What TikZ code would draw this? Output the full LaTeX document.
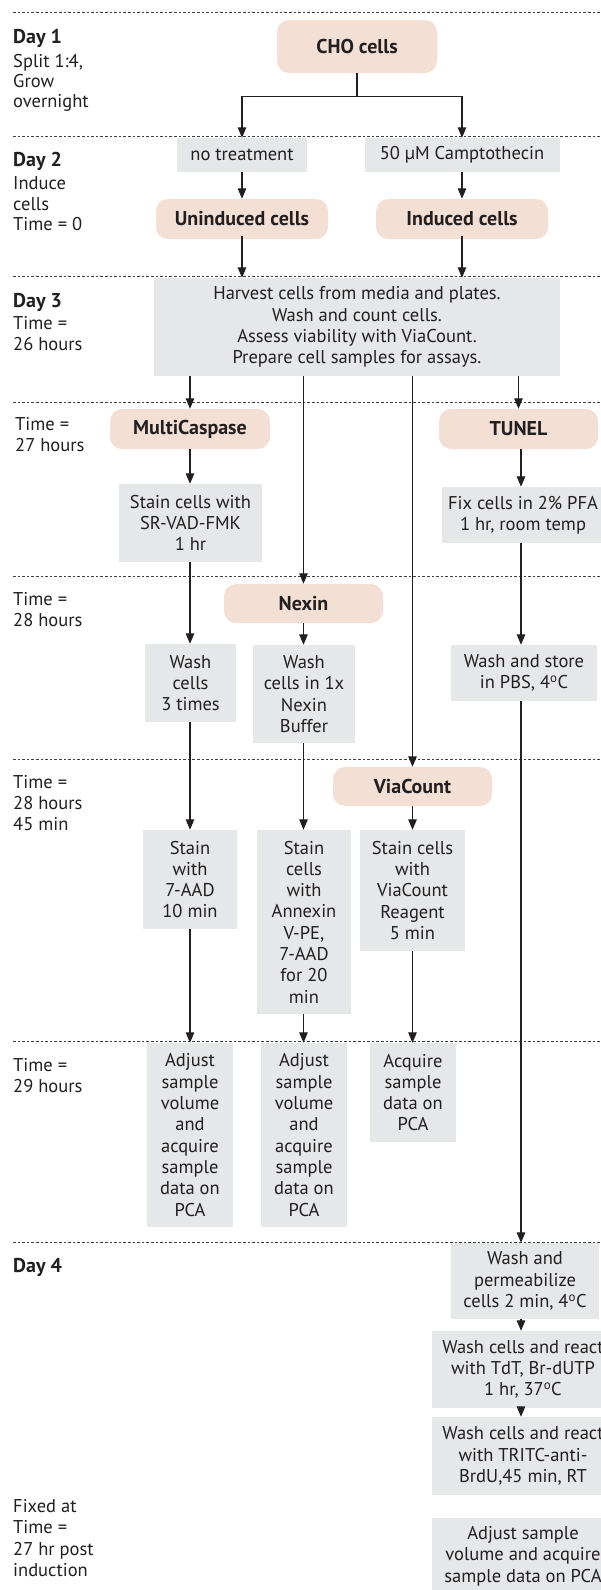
\documentclass[tikz,border=0pt]{standalone}
\usepackage{fontspec}
\setmainfont{PT Sans}
\usetikzlibrary{arrows.meta}
\definecolor{pinkbox}{HTML}{F3DFD4}
\definecolor{graybox}{HTML}{E6E7E8}
\definecolor{ink}{HTML}{231F20}
\newcommand{\degO}{\textsuperscript{o}}
\begin{document}
\begin{tikzpicture}[x=1pt,y=-1pt,
  every node/.style={text=ink},
  body/.style={font=\fontsize{18.5}{21.3}\selectfont},
  head/.style={font=\fontsize{20}{24}\selectfont\bfseries},
  pinkstep/.style={head,fill=pinkbox,rounded corners=12pt,inner sep=0pt,align=center},
  graystep/.style={body,fill=graybox,inner sep=0pt,align=center},
  lbl/.style={body,anchor=west,inner sep=0pt,text height=13pt,text depth=0pt},
  lblhead/.style={head,anchor=west,inner sep=0pt,text height=13.5pt,text depth=0pt},
  arr/.style={draw=ink,line width=1.25pt,-{Triangle[width=8.5pt,length=10.5pt]}},
  plain/.style={draw=ink,line width=1.25pt},
  sep/.style={draw=black!75,line width=0.9pt,dash pattern=on 2.6pt off 2pt}]
\useasboundingbox (0,0) rectangle (601,1590);
\clip (0,0) rectangle (601,1590);
\fill[white] (0,0) rectangle (601,1590);

% separators
\foreach \yy in {12,136,276,402,576,759,1041,1242}
  \draw[sep] (13,\yy) -- (601,\yy);

% left labels
\node[lblhead] (d1) at (13,37) {Day 1};
\node[lbl] (d1a) at (13,61) {Split 1:4,};
\node[lbl] (d1b) at (13,81) {Grow};
\node[lbl] (d1c) at (13,101) {overnight};
\node[lblhead] (d2) at (13,160) {Day 2};
\node[lbl] (d2a) at (13,183) {Induce};
\node[lbl] (d2b) at (13,204) {cells};
\node[lbl] (d2c) at (13,224) {Time = 0};
\node[lblhead] (d3) at (13,301) {Day 3};
\node[lbl] (d3a) at (13,323) {Time =};
\node[lbl] (d3b) at (13,344) {26 hours};
\node[lbl] (t27a) at (15,424) {Time =};
\node[lbl] (t27b) at (15,445) {27 hours};
\node[lbl] (t28a) at (13,599) {Time =};
\node[lbl] (t28b) at (13,620) {28 hours};
\node[lbl] (t45a) at (13,782) {Time =};
\node[lbl] (t45b) at (13,803) {28 hours};
\node[lbl] (t45c) at (13,824) {45 min};
\node[lbl] (t29a) at (13,1065) {Time =};
\node[lbl] (t29b) at (13,1086) {29 hours};
\node[lblhead] (d4) at (13,1266) {Day 4};
\node[lbl] (fxa) at (13,1506) {Fixed at};
\node[lbl] (fxb) at (13,1527) {Time =};
\node[lbl] (fxc) at (13,1549) {27 hr post};
\node[lbl] (fxd) at (13,1570) {induction};

% boxes
\node[pinkstep,minimum width=160pt,minimum height=53pt] (cho) at (357,46.5) {CHO cells};
\node[graystep,minimum width=130pt,minimum height=34pt] (notreat) at (242,155) {no treatment};
\node[graystep,minimum width=195pt,minimum height=34pt] (campto) at (462,155) {50 µM Camptothecin};
\node[pinkstep,minimum width=172pt,minimum height=40pt] (unind) at (242,219) {Uninduced cells};
\node[pinkstep,minimum width=172pt,minimum height=40pt] (ind) at (462,219) {Induced cells};
\node[graystep,minimum width=406pt,minimum height=98pt] (harvest) at (357,327)
  {Harvest cells from media and plates.\\Wash and count cells.\\Assess viability with ViaCount.\\Prepare cell samples for assays.};
\node[pinkstep,minimum width=160pt,minimum height=40pt] (multi) at (190,429) {MultiCaspase};
\node[pinkstep,minimum width=159pt,minimum height=40pt] (tunel) at (518.5,429) {TUNEL};
\node[graystep,minimum width=143pt,minimum height=78pt] (stainsr) at (190.5,523) {Stain cells with\\SR-VAD-FMK\\1 hr};
\node[graystep,minimum width=162pt,minimum height=56pt] (fix) at (523,515) {Fix cells in 2\% PFA\\1 hr, room temp};
\node[pinkstep,minimum width=159pt,minimum height=39pt] (nexin) at (303.5,603.5) {Nexin};
\node[graystep,minimum width=91pt,minimum height=78pt] (wash3) at (190.5,683) {Wash\\cells\\3 times};
\node[graystep,minimum width=102pt,minimum height=98pt] (wash1x) at (304,694) {Wash\\cells in 1x\\Nexin\\Buffer};
\node[graystep,minimum width=146pt,minimum height=56pt] (washstore) at (524,673) {Wash and store\\in PBS, 4\degO C};
\node[pinkstep,minimum width=159pt,minimum height=39pt] (viacount) at (412.5,786.5) {ViaCount};
\node[graystep,minimum width=94pt,minimum height=99pt] (stain7) at (190,879.5) {Stain\\with\\7-AAD\\10 min};
\node[graystep,minimum width=94pt,minimum height=184pt] (stainann) at (304,922) {Stain\\cells\\with\\Annexin\\V-PE,\\7-AAD\\for 20\\min};
\node[graystep,minimum width=105pt,minimum height=121pt] (stainvc) at (412.5,890.5) {Stain cells\\with\\ViaCount\\Reagent\\5 min};
\node[graystep,minimum width=86pt,minimum height=184pt] (adj1) at (190,1135) {Adjust\\sample\\volume\\and\\acquire\\sample\\data on\\PCA};
\node[graystep,minimum width=86pt,minimum height=184pt] (adj2) at (304,1135) {Adjust\\sample\\volume\\and\\acquire\\sample\\data on\\PCA};
\node[graystep,minimum width=86pt,minimum height=99pt] (acq) at (413,1092.5) {Acquire\\sample\\data on\\PCA};
\node[graystep,minimum width=148pt,minimum height=76pt] (washperm) at (525,1281) {Wash and\\permeabilize\\cells 2 min, 4\degO C};
\node[graystep,minimum width=182pt,minimum height=77pt] (tdt) at (523,1369.5) {Wash cells and react\\with TdT, Br-dUTP\\1 hr, 37\degO C};
\node[graystep,minimum width=182pt,minimum height=78pt] (tritc) at (523,1456) {Wash cells and react\\with TRITC-anti-\\BrdU,45 min, RT};
\node[graystep,minimum width=182pt,minimum height=76pt] (adjfin) at (523,1556) {Adjust sample\\volume and acquire\\sample data on PCA};

% column coordinate for TUNEL branch
\coordinate (c4) at (521,0);

% connectors
\draw[plain] (cho.south) -- ++(0,23) coordinate (br);
\draw[arr] (br) -| (notreat.north);
\draw[arr] (br) -| (campto.north);
\draw[arr] (notreat) -- (unind);
\draw[arr] (campto) -- (ind);
\draw[arr] ([yshift=3pt]unind.south) -- (unind.south |- harvest.north);
\draw[arr] ([yshift=3pt]ind.south) -- (ind.south |- harvest.north);
\draw[arr] (harvest.south -| multi) -- (multi.north);
\draw[arr] (harvest.south -| tunel) -- (tunel.north);
\draw[arr] (harvest.south -| nexin) -- (nexin.north);
\draw[arr] (harvest.south -| viacount) -- (viacount.north);
\draw[arr] (multi) -- (multi |- stainsr.north);
\draw[arr] (tunel.south -| c4) -- (fix.north -| c4);
\draw[arr] (stainsr.south -| multi) -- (multi |- wash3.north);
\draw[arr] (nexin) -- (nexin |- wash1x.north);
\draw[arr] (fix.south -| c4) -- (washstore.north -| c4);
\draw[arr] (wash3.south -| multi) -- (multi |- stain7.north);
\draw[arr] (wash1x.south -| nexin) -- (nexin |- stainann.north);
\draw[arr] (viacount) -- (viacount |- stainvc.north);
\draw[arr] (stain7.south -| multi) -- (multi |- adj1.north);
\draw[arr] (stainann.south -| nexin) -- (nexin |- adj2.north);
\draw[arr] (stainvc.south -| viacount) -- (viacount |- acq.north);
\draw[arr] (washstore.south -| c4) -- (washperm.north -| c4);
\draw[arr] (washperm.south -| c4) -- (tdt.north -| c4);
\draw[arr] (tdt.south -| c4) -- (tritc.north -| c4);
\end{tikzpicture}
\end{document}
